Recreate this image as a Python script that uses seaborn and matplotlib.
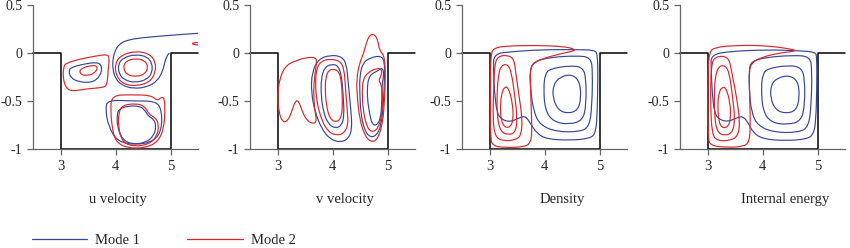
import matplotlib
matplotlib.use("Agg")
import matplotlib.pyplot as plt
import seaborn as sns
from matplotlib.lines import Line2D
from matplotlib.path import Path
from matplotlib.patches import PathPatch

# Contour lines, (x, y) in data units; loops are closed when drawn
u_mode1 = [
    [(4.364, -0.014), (4.576, -0.038), (4.667, -0.108), (4.667, -0.205), (4.576, -0.275),
     (4.364, -0.309), (4.17, -0.285), (4.06, -0.216), (4.048, -0.118), (4.139, -0.049)],
    [(3.182, -0.153), (3.394, -0.118), (3.667, -0.094), (3.758, -0.136), (3.727, -0.24),
     (3.576, -0.309), (3.333, -0.302), (3.182, -0.257), (3.151, -0.188)],
    [(3.85, -0.49), (4.3, -0.5), (4.73, -0.5), (4.84, -0.59), (4.84, -0.8), (4.7, -0.92),
     (4.36, -0.96), (4.03, -0.92), (3.87, -0.76), (3.82, -0.59)],
    [(4.06, -0.587), (4.21, -0.552), (4.45, -0.552), (4.545, -0.604), (4.594, -0.656),
     (4.697, -0.691), (4.739, -0.76), (4.697, -0.865), (4.545, -0.934), (4.303, -0.952),
     (4.121, -0.9), (4.03, -0.76), (4.03, -0.639)],
]
u_mode1_open = [
    [(5.5, 0.205), (5.21, 0.194), (4.85, 0.177), (4.485, 0.16), (4.21, 0.135), (4.06, 0.09),
     (3.99, 0.02), (3.95, -0.066), (3.95, -0.17), (4.0, -0.268), (4.12, -0.337), (4.33, -0.372),
     (4.58, -0.354), (4.76, -0.292), (4.86, -0.188), (4.9, -0.084), (4.94, -0.025), (4.98, 0.0)],
]
u_mode2 = [
    [(4.364, 0.021), (4.606, -0.004), (4.727, -0.084), (4.727, -0.205), (4.624, -0.302),
     (4.394, -0.344), (4.151, -0.327), (4.012, -0.24), (3.988, -0.118), (4.091, -0.025)],
    [(4.364, -0.056), (4.533, -0.077), (4.594, -0.143), (4.545, -0.216), (4.394, -0.247),
     (4.212, -0.23), (4.139, -0.16), (4.182, -0.084)],
    [(3.091, -0.108), (3.333, -0.066), (3.636, -0.032), (3.848, -0.014), (3.891, -0.049),
     (3.867, -0.17), (3.848, -0.337), (3.758, -0.361), (3.485, -0.372), (3.212, -0.4),
     (3.091, -0.361), (3.042, -0.24), (3.061, -0.143)],
    [(3.364, -0.163), (3.576, -0.125), (3.685, -0.143), (3.624, -0.212), (3.455, -0.24),
     (3.345, -0.212)],
    [(3.93, -0.44), (4.3, -0.435), (4.65, -0.44), (4.76, -0.5), (4.83, -0.46), (4.89, -0.47),
     (4.9, -0.6), (4.88, -0.78), (4.78, -0.92), (4.55, -0.99), (4.2, -0.99), (4.0, -0.92),
     (3.94, -0.78), (3.91, -0.6)],
    [(4.121, -0.545), (4.364, -0.525), (4.533, -0.552), (4.606, -0.639), (4.727, -0.674),
     (4.788, -0.743), (4.758, -0.865), (4.606, -0.952), (4.333, -0.976), (4.121, -0.927),
     (4.048, -0.76), (4.06, -0.622)],
]
u_mode2_open = [
    [(5.5, 0.11), (5.45, 0.11), (5.38, 0.098), (5.45, 0.085), (5.5, 0.085)],
]

v_mode1 = [
    [(3.955, -0.022), (4.165, -0.035), (4.255, -0.115), (4.285, -0.306), (4.333, -0.584),
     (4.357, -0.792), (4.285, -0.897), (4.135, -0.931), (3.955, -0.897), (3.805, -0.792),
     (3.685, -0.619), (3.613, -0.41), (3.625, -0.202), (3.745, -0.063)],
    [(3.985, -0.115), (4.105, -0.133), (4.165, -0.237), (4.195, -0.445), (4.213, -0.653),
     (4.165, -0.758), (4.045, -0.785), (3.925, -0.74), (3.835, -0.619), (3.793, -0.445),
     (3.793, -0.272), (3.853, -0.15)],
    [(4.555, -0.098), (4.706, -0.046), (4.874, -0.029), (4.946, -0.081), (4.946, -0.272),
     (4.928, -0.515), (4.886, -0.758), (4.796, -0.862), (4.676, -0.879), (4.573, -0.792),
     (4.513, -0.619), (4.495, -0.41), (4.495, -0.237)],
    [(4.706, -0.219), (4.826, -0.185), (4.916, -0.15), (4.934, -0.237), (4.898, -0.324),
     (4.898, -0.515), (4.874, -0.688), (4.796, -0.758), (4.718, -0.74), (4.676, -0.636),
     (4.634, -0.48), (4.634, -0.341), (4.658, -0.265)],
]
v_mode2 = [
    [(3.036, -0.272), (3.144, -0.133), (3.324, -0.081), (3.535, -0.046), (3.697, -0.046),
     (3.715, -0.098), (3.673, -0.237), (3.655, -0.41), (3.673, -0.584), (3.715, -0.706),
     (3.655, -0.74), (3.535, -0.706), (3.444, -0.601), (3.384, -0.497), (3.324, -0.497),
     (3.264, -0.601), (3.192, -0.706), (3.096, -0.723), (3.024, -0.619), (3.0, -0.445)],
    [(3.955, -0.063), (4.135, -0.081), (4.213, -0.167), (4.237, -0.376), (4.273, -0.619),
     (4.285, -0.758), (4.195, -0.845), (4.045, -0.855), (3.925, -0.82), (3.805, -0.706),
     (3.715, -0.515), (3.685, -0.306), (3.715, -0.15), (3.805, -0.081)],
    [(3.997, -0.167), (4.117, -0.185), (4.165, -0.306), (4.183, -0.515), (4.165, -0.671),
     (4.075, -0.723), (3.955, -0.688), (3.895, -0.567), (3.865, -0.393), (3.877, -0.254),
     (3.925, -0.185)],
    [(4.495, -0.098), (4.573, 0.006), (4.616, 0.11), (4.676, 0.187), (4.766, 0.197),
     (4.826, 0.128), (4.856, 0.024), (4.946, -0.029), (4.964, -0.237), (4.946, -0.48),
     (4.916, -0.723), (4.826, -0.897), (4.706, -0.931), (4.585, -0.862), (4.495, -0.688),
     (4.453, -0.48), (4.435, -0.272)],
    [(4.646, -0.202), (4.796, -0.16), (4.898, -0.167), (4.886, -0.237), (4.838, -0.289),
     (4.886, -0.324), (4.916, -0.445), (4.898, -0.653), (4.826, -0.792), (4.706, -0.827),
     (4.616, -0.758), (4.555, -0.584), (4.537, -0.41), (4.555, -0.272)],
]

rho_mode1 = [
    [(3.078, -0.01), (3.387, 0.014), (3.982, 0.035), (4.578, 0.035), (4.905, 0.031),
     (4.965, -0.01), (4.971, -0.269), (4.959, -0.614), (4.935, -0.821), (4.845, -0.89),
     (4.459, -0.91), (4.042, -0.897), (3.863, -0.838), (3.744, -0.734), (3.655, -0.655),
     (3.536, -0.676), (3.387, -0.717), (3.238, -0.7), (3.137, -0.631), (3.09, -0.407),
     (3.072, -0.165)],
    [(3.804, -0.089), (4.101, -0.045), (4.578, -0.028), (4.845, -0.045), (4.875, -0.2),
     (4.863, -0.545), (4.816, -0.769), (4.637, -0.821), (4.22, -0.821), (3.923, -0.752),
     (3.804, -0.614), (3.744, -0.372), (3.732, -0.183)],
    [(4.101, -0.165), (4.459, -0.131), (4.697, -0.148), (4.756, -0.269), (4.756, -0.545),
     (4.697, -0.7), (4.459, -0.745), (4.161, -0.717), (4.012, -0.596), (3.982, -0.372),
     (4.012, -0.217)],
    [(4.28, -0.25), (4.488, -0.22), (4.637, -0.29), (4.667, -0.466), (4.607, -0.596),
     (4.429, -0.631), (4.25, -0.596), (4.149, -0.466), (4.161, -0.33)],
]
rho_mode2 = [
    [(4.548, 0.041), (4.34, 0.069), (3.804, 0.08), (3.268, 0.072), (3.09, 0.05), (3.03, 0.007),
     (3.018, -0.2), (3.018, -0.545), (3.018, -0.89), (3.06, -0.966), (3.268, -0.986),
     (3.625, -0.979), (3.744, -0.941), (3.774, -0.821), (3.756, -0.545), (3.744, -0.269),
     (3.744, -0.165), (3.804, -0.103), (3.982, -0.055), (4.28, -0.01), (4.548, 0.024)],
    [(3.149, -0.035), (3.328, -0.021), (3.447, -0.062), (3.476, -0.2), (3.536, -0.441),
     (3.596, -0.683), (3.578, -0.855), (3.476, -0.907), (3.238, -0.917), (3.101, -0.872),
     (3.06, -0.683), (3.078, -0.372), (3.09, -0.131)],
    [(3.208, -0.131), (3.328, -0.114), (3.399, -0.2), (3.459, -0.441), (3.506, -0.683),
     (3.476, -0.821), (3.357, -0.855), (3.197, -0.821), (3.137, -0.648), (3.137, -0.407),
     (3.161, -0.234)],
    [(3.268, -0.355), (3.34, -0.355), (3.417, -0.51), (3.435, -0.683), (3.387, -0.769),
     (3.28, -0.779), (3.208, -0.7), (3.197, -0.545), (3.22, -0.424)],
]

energy_mode1 = [
    [(3.065, -0.017), (3.411, 0.017), (4.065, 0.034), (4.661, 0.024), (4.958, 0.01),
     (4.988, -0.035), (4.988, -0.362), (4.97, -0.707), (4.929, -0.845), (4.81, -0.897),
     (4.423, -0.914), (4.006, -0.897), (3.827, -0.828), (3.738, -0.724), (3.637, -0.655),
     (3.518, -0.679), (3.381, -0.714), (3.232, -0.7), (3.125, -0.631), (3.083, -0.397),
     (3.065, -0.155)],
    [(3.798, -0.086), (4.065, -0.045), (4.542, -0.024), (4.869, -0.035), (4.899, -0.19),
     (4.887, -0.535), (4.839, -0.769), (4.661, -0.828), (4.214, -0.828), (3.917, -0.759),
     (3.798, -0.621), (3.756, -0.362), (3.756, -0.173)],
    [(4.095, -0.162), (4.452, -0.128), (4.708, -0.148), (4.768, -0.276), (4.768, -0.535),
     (4.708, -0.707), (4.452, -0.748), (4.155, -0.724), (4.006, -0.604), (3.976, -0.362),
     (4.006, -0.217)],
    [(4.274, -0.259), (4.482, -0.231), (4.649, -0.293), (4.673, -0.466), (4.613, -0.597),
     (4.435, -0.631), (4.244, -0.597), (4.143, -0.473), (4.155, -0.328)],
]
energy_mode2 = [
    [(4.601, 0.034), (4.065, 0.079), (3.47, 0.079), (3.143, 0.058), (3.036, 0.017),
     (3.006, -0.19), (3.006, -0.879), (3.054, -0.966), (3.351, -0.983), (3.649, -0.976),
     (3.756, -0.931), (3.78, -0.776), (3.768, -0.466), (3.756, -0.19), (3.798, -0.104),
     (3.976, -0.045), (4.304, 0.0), (4.571, 0.017)],
    [(3.143, -0.035), (3.381, -0.035), (3.44, -0.19), (3.53, -0.466), (3.589, -0.707),
     (3.56, -0.862), (3.411, -0.914), (3.173, -0.914), (3.083, -0.845), (3.054, -0.535),
     (3.065, -0.121)],
    [(3.202, -0.138), (3.321, -0.128), (3.399, -0.207), (3.458, -0.466), (3.5, -0.69),
     (3.458, -0.828), (3.321, -0.862), (3.173, -0.828), (3.125, -0.638), (3.125, -0.397),
     (3.143, -0.242)],
    [(3.262, -0.355), (3.339, -0.362), (3.411, -0.517), (3.423, -0.673), (3.381, -0.769),
     (3.262, -0.783), (3.202, -0.707), (3.185, -0.535), (3.208, -0.414)],
]

cavity_x = [2.5, 3, 3, 5, 5, 5.5]
cavity_y = [0, 0, -1, -1, 0, 0]

titles = ["u velocity", "v velocity", "Density", "Internal energy"]
x_ticks = [3, 4, 5]
y_ticks = [-1, -0.5, 0, 0.5]
y_tick_labels = ["-1", "-0.5", "0", "0.5"]

blue = "#33469a"
red = "#d8262a"

sns.set_style("white")
plt.rcParams["font.family"] = ["Liberation Serif", "DejaVu Serif"]

fig = plt.figure(figsize=(8.5, 2.48), dpi=100)

panels = [
    (u_mode1, u_mode1_open, u_mode2, u_mode2_open),
    (v_mode1, [], v_mode2, []),
    (rho_mode1, [], rho_mode2, []),
    (energy_mode1, [], energy_mode2, []),
]
lefts_px = [33, 250, 462, 680]
title_px = [118, 345, 562, 785]


def mid(a, b):
    return ((a[0] + b[0]) / 2, (a[1] + b[1]) / 2)


def draw(ax, curves, color, closed):
    # smooth rendering: read points act as quadratic Bezier control points
    for c in curves:
        n = len(c)
        if closed:
            verts = [mid(c[-1], c[0])]
            codes = [Path.MOVETO]
            for i in range(n):
                verts += [c[i], mid(c[i], c[(i + 1) % n])]
                codes += [Path.CURVE3, Path.CURVE3]
        else:
            verts = [c[0]]
            codes = [Path.MOVETO]
            for i in range(1, n - 1):
                verts += [c[i], mid(c[i], c[i + 1])]
                codes += [Path.CURVE3, Path.CURVE3]
            verts.append(c[-1])
            codes.append(Path.LINETO)
        ax.add_patch(PathPatch(Path(verts, codes), facecolor="none", edgecolor=color,
                               linewidth=0.85, zorder=2))


for i, (m1, m1o, m2, m2o) in enumerate(panels):
    ax = fig.add_axes([lefts_px[i] / 850, 1 - 149 / 248, 165 / 850, 144 / 248])
    sns.lineplot(x=cavity_x, y=cavity_y, ax=ax, sort=False, estimator=None,
                 color="black", linewidth=1.1, clip_on=False, zorder=1)
    draw(ax, m1, blue, True)
    draw(ax, m1o, blue, False)
    draw(ax, m2, red, True)
    draw(ax, m2o, red, False)
    ax.set_xlim(2.5, 5.5)
    ax.set_ylim(-1, 0.5)
    ax.set_xticks(x_ticks)
    ax.set_xticklabels([str(t) for t in x_ticks])
    ax.set_yticks(y_ticks)
    ax.set_yticklabels(y_tick_labels)
    for s in ["top", "right"]:
        ax.spines[s].set_visible(False)
    for s in ["left", "bottom"]:
        ax.spines[s].set_color("#666666")
        ax.spines[s].set_linewidth(0.9)
    ax.tick_params(axis="y", direction="out", length=4.5, width=0.9, color="#666666",
                   labelsize=10, pad=3, left=True)
    ax.tick_params(axis="x", direction="out", length=4.5, width=0.9, color="#666666",
                   labelsize=10.5, pad=3.5, bottom=True)
    ax.set_xlabel("")
    ax.set_ylabel("")
    fig.text(title_px[i] / 850, 1 - 199 / 248, titles[i], ha="center", va="center",
             fontsize=10.5)

handles = [Line2D([], [], color=blue, lw=0.9), Line2D([], [], color=red, lw=0.9)]
fig.legend(handles, ["Mode 1", "Mode 2"], loc="center left",
           bbox_to_anchor=(32 / 850, 1 - 240 / 248), ncol=2, frameon=False,
           fontsize=10.5, handlelength=3.8, handletextpad=0.55, columnspacing=3.2,
           borderpad=0, borderaxespad=0)

fig.savefig("out.png", dpi=100)
